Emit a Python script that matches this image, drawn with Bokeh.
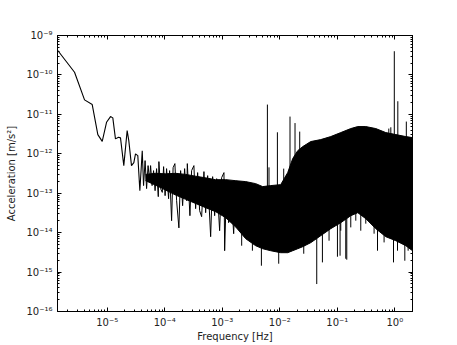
from bokeh.plotting import figure
from bokeh.models import LogAxis, FixedTicker, Range1d
from bokeh.embed import file_html
from bokeh.resources import INLINE

# ---- data ----
# low-frequency smooth part of the spectrum
curve_freq = [1.38e-6, 2.70e-6, 4.03e-6, 5.48e-6, 6.86e-6, 8.18e-6, 9.72e-6, 1.14e-5,
              1.25e-5, 1.39e-5, 1.57e-5, 1.70e-5, 1.94e-5, 2.22e-5, 2.37e-5, 2.64e-5,
              2.90e-5, 3.10e-5, 3.40e-5, 3.69e-5, 4.06e-5, 4.28e-5]
curve_acc = [4.16e-10, 1.17e-10, 2.33e-11, 1.77e-11, 3.07e-12, 2.07e-12, 6.29e-12, 8.79e-12,
             8.15e-12, 2.39e-12, 2.62e-12, 2.53e-12, 5.01e-13, 3.87e-12, 2.16e-12, 5.01e-13,
             5.97e-13, 9.93e-13, 8.99e-13, 1.16e-13, 1.20e-12, 1.56e-13]

# sparse noisy part (individual excursions)
noise_freq = [4.28e-5, 4.55e-5, 4.83e-5, 5.13e-5, 5.45e-5, 5.67e-5, 6.02e-5, 6.39e-5,
              6.79e-5, 7.21e-5, 7.72e-5, 7.91e-5, 8.46e-5, 9.06e-5, 9.55e-5, 1.014e-4,
              1.076e-4, 1.166e-4, 1.214e-4, 1.315e-4, 1.397e-4, 1.501e-4, 1.607e-4, 1.762e-4,
              1.887e-4, 2.044e-4, 2.214e-4, 2.40e-4, 2.468e-4, 2.739e-4, 2.93e-4, 3.213e-4,
              3.44e-4, 3.73e-4, 4.04e-4, 4.377e-4, 4.80e-4, 5.14e-4, 5.57e-4, 6.28e-4,
              6.80e-4, 7.37e-4, 7.99e-4, 9.00e-4, 9.75e-4, 1.07e-3, 1.10e-3, 1.192e-3,
              1.291e-3, 1.398e-3, 1.578e-3, 1.709e-3]
noise_acc = [1.56e-13, 6.71e-13, 1.31e-13, 5.01e-13, 2.08e-13, 5.01e-13, 1.56e-13, 3.74e-13,
             1.16e-13, 4.20e-13, 8.18e-14, 6.33e-13, 1.31e-13, 1.05e-13, 4.72e-13, 8.67e-14,
             4.20e-13, 7.27e-14, 3.74e-13, 2.01e-14, 4.45e-13, 5.63e-13, 6.47e-14, 1.32e-14,
             3.74e-13, 4.83e-14, 4.20e-13, 6.47e-14, 5.63e-13, 2.69e-14, 3.74e-13, 5.01e-13,
             4.06e-14, 3.33e-13, 3.61e-14, 2.54e-14, 3.53e-13, 3.21e-14, 2.79e-13, 7.89e-15,
             2.63e-13, 2.69e-14, 2.34e-13, 1.12e-14, 2.48e-13, 3.33e-13, 3.48e-15, 2.08e-13,
             1.79e-14, 1.97e-13, 9.40e-15, 2.08e-13]

# dense noise band: upper and lower envelope
band_freq = [4.64e-5, 6.93e-5, 1.034e-4, 1.544e-4, 2.306e-4, 3.44e-4, 5.14e-4, 7.67e-4,
             1.145e-3, 1.709e-3, 2.552e-3, 3.81e-3, 5.04e-3, 6.95e-3, 1.038e-2, 1.373e-2,
             1.678e-2, 2.05e-2, 2.506e-2, 3.45e-2, 5.15e-2, 7.69e-2, 0.1149, 0.1715,
             0.2271, 0.3128, 0.467, 0.697, 1.041, 1.554, 2.03]
band_upper = [3.00e-13, 3.20e-13, 3.10e-13, 3.20e-13, 3.00e-13, 2.70e-13, 2.45e-13, 2.20e-13,
              2.21e-13, 2.08e-13, 1.97e-13, 1.75e-13, 1.47e-13, 1.56e-13, 1.65e-13, 3.33e-13,
              7.54e-13, 1.20e-12, 1.52e-12, 2.04e-12, 2.29e-12, 2.73e-12, 3.45e-12, 4.36e-12,
              4.90e-12, 4.90e-12, 4.36e-12, 3.45e-12, 3.07e-12, 2.73e-12, 2.57e-12]
band_lower = [2.08e-13, 1.60e-13, 1.20e-13, 9.00e-14, 7.00e-14, 5.50e-14, 4.30e-14, 3.40e-14,
              2.40e-14, 1.40e-14, 7.02e-15, 4.66e-15, 3.91e-15, 3.48e-15, 3.10e-15, 3.10e-15,
              3.48e-15, 3.91e-15, 4.40e-15, 5.56e-15, 8.37e-15, 1.26e-14, 1.79e-14, 2.69e-14,
              3.21e-14, 2.26e-14, 1.26e-14, 7.89e-15, 6.25e-15, 4.66e-15, 3.48e-15]

# upward spectral lines (peaks)
up_freq = [6.09e-3, 9.09e-3, 1.506e-2, 1.84e-2, 2.22e-2, 0.98, 1.128, 1.585,
           6.49e-3, 1.17e-2, 0.852, 0.786]
up_top = [1.77e-11, 3.51e-12, 8.78e-12, 6.01e-12, 3.65e-12, 3.99e-10, 2.15e-11, 6.56e-12,
          4.53e-13, 4.20e-13, 4.70e-12, 4.36e-12]
up_base = [1.0e-13, 1.0e-13, 1.0e-13, 1.0e-13, 1.0e-13, 1.0e-13, 1.0e-13, 1.0e-13,
           1.0e-13, 1.0e-13, 1.0e-13, 1.0e-13]

# downward dips
down_freq = [2.175e-3, 3.34e-3, 4.79e-3, 9.58e-3, 2.61e-2, 4.39e-2,
             5.51e-2, 0.1006, 0.1117, 0.1461, 0.5, 0.949, 1.493,
             7.19e-2, 0.1149, 0.1403, 0.1715, 0.2097, 0.256, 0.3128, 0.436,
             0.651, 1.114, 1.704]
down_bottom = [4.66e-15, 3.48e-15, 1.45e-15, 1.63e-15, 2.92e-15, 4.97e-16,
               1.76e-15, 2.45e-15, 2.60e-15, 2.06e-15, 3.48e-15, 1.76e-15, 1.94e-15,
               6.25e-15, 1.12e-14, 2.18e-15, 1.36e-14, 2.01e-14, 1.12e-14, 1.69e-14, 9.40e-15,
               5.65e-15, 3.48e-15, 3.48e-15]
down_base = [3.0e-14, 2.0e-14, 2.0e-14, 2.0e-14, 2.0e-14, 3.0e-14,
             3.0e-14, 1.0e-13, 1.0e-13, 1.0e-13, 1.0e-13, 5.0e-14, 5.0e-14,
             1.0e-13, 1.0e-13, 1.0e-13, 1.0e-13, 1.0e-13, 1.0e-13, 1.0e-13, 1.0e-13,
             1.0e-13, 1.0e-13, 1.0e-13]

x_tick_exp = [-5, -4, -3, -2, -1, 0]
y_tick_exp = [-16, -15, -14, -13, -12, -11, -10, -9]

SUP = str.maketrans("-0123456789", "⁻⁰¹²³⁴⁵⁶⁷⁸⁹")


def label(e):
    return "10" + str(e).translate(SUP)


x_major = [10.0 ** e for e in x_tick_exp]
y_major = [10.0 ** e for e in y_tick_exp]
x_minor = [m * 10.0 ** e for e in range(-7, 1) for m in range(2, 10)]
y_minor = [m * 10.0 ** e for e in range(-17, -8) for m in range(2, 10)]

FONT = "DejaVu Sans"

p = figure(width=457, height=345, x_axis_type="log", y_axis_type="log",
           x_range=Range1d(1.365e-6, 2.03), y_range=Range1d(1e-16, 1e-9),
           output_backend="svg", toolbar_location=None,
           min_border_left=57, min_border_top=35, min_border_right=45, min_border_bottom=34)
p.xgrid.visible = False
p.ygrid.visible = False
p.outline_line_color = "black"
p.outline_line_width = 1
p.background_fill_color = "white"
p.border_fill_color = "white"

# band
p.varea(x=band_freq, y1=band_lower, y2=band_upper, fill_color="black")
p.line(band_freq, band_upper, line_color="black", line_width=1)
p.line(band_freq, band_lower, line_color="black", line_width=1)
# sparse noise
p.line(noise_freq, noise_acc, line_color="black", line_width=1)
# spikes
p.segment(x0=up_freq, y0=up_base, x1=up_freq, y1=up_top, line_color="black", line_width=1)
p.segment(x0=down_freq, y0=down_base, x1=down_freq, y1=down_bottom, line_color="black", line_width=1)
# low frequency curve
p.line(curve_freq, curve_acc, line_color="black", line_width=1.1)


def style(ax, xdir, show_labels):
    ax.ticker = FixedTicker(ticks=x_major if xdir else y_major,
                            minor_ticks=x_minor if xdir else y_minor)
    ax.major_tick_in = 4
    ax.major_tick_out = 0
    ax.minor_tick_in = 2
    ax.minor_tick_out = 0
    ax.axis_line_color = "black"
    ax.major_tick_line_color = "black"
    ax.minor_tick_line_color = "black"
    ax.major_label_text_font = FONT
    ax.major_label_text_font_size = "10px"
    ax.major_label_text_color = "#222222"
    exps = x_tick_exp if xdir else y_tick_exp
    if show_labels:
        ax.major_label_overrides = {10.0 ** e: label(e) for e in exps}
    else:
        ax.major_label_overrides = {10.0 ** e: "" for e in exps}


xa = p.xaxis[0]
ya = p.yaxis[0]
style(xa, True, True)
style(ya, False, True)
xa.major_label_standoff = 5
xa.axis_label = "Frequency [Hz]"
xa.axis_label_standoff = 0
ya.major_label_standoff = 5
ya.axis_label = "Acceleration [m/s²]"
ya.axis_label_standoff = 6
for ax in (xa, ya):
    ax.axis_label_text_font = FONT
    ax.axis_label_text_font_size = "10px"
    ax.axis_label_text_font_style = "normal"
    ax.axis_label_text_color = "#222222"

top = LogAxis()
style(top, True, False)
top.major_label_standoff = 0
right = LogAxis()
style(right, False, False)
right.major_label_standoff = 0
p.add_layout(top, "above")
p.add_layout(right, "right")

open("out.html", "w").write(file_html(p, INLINE))
